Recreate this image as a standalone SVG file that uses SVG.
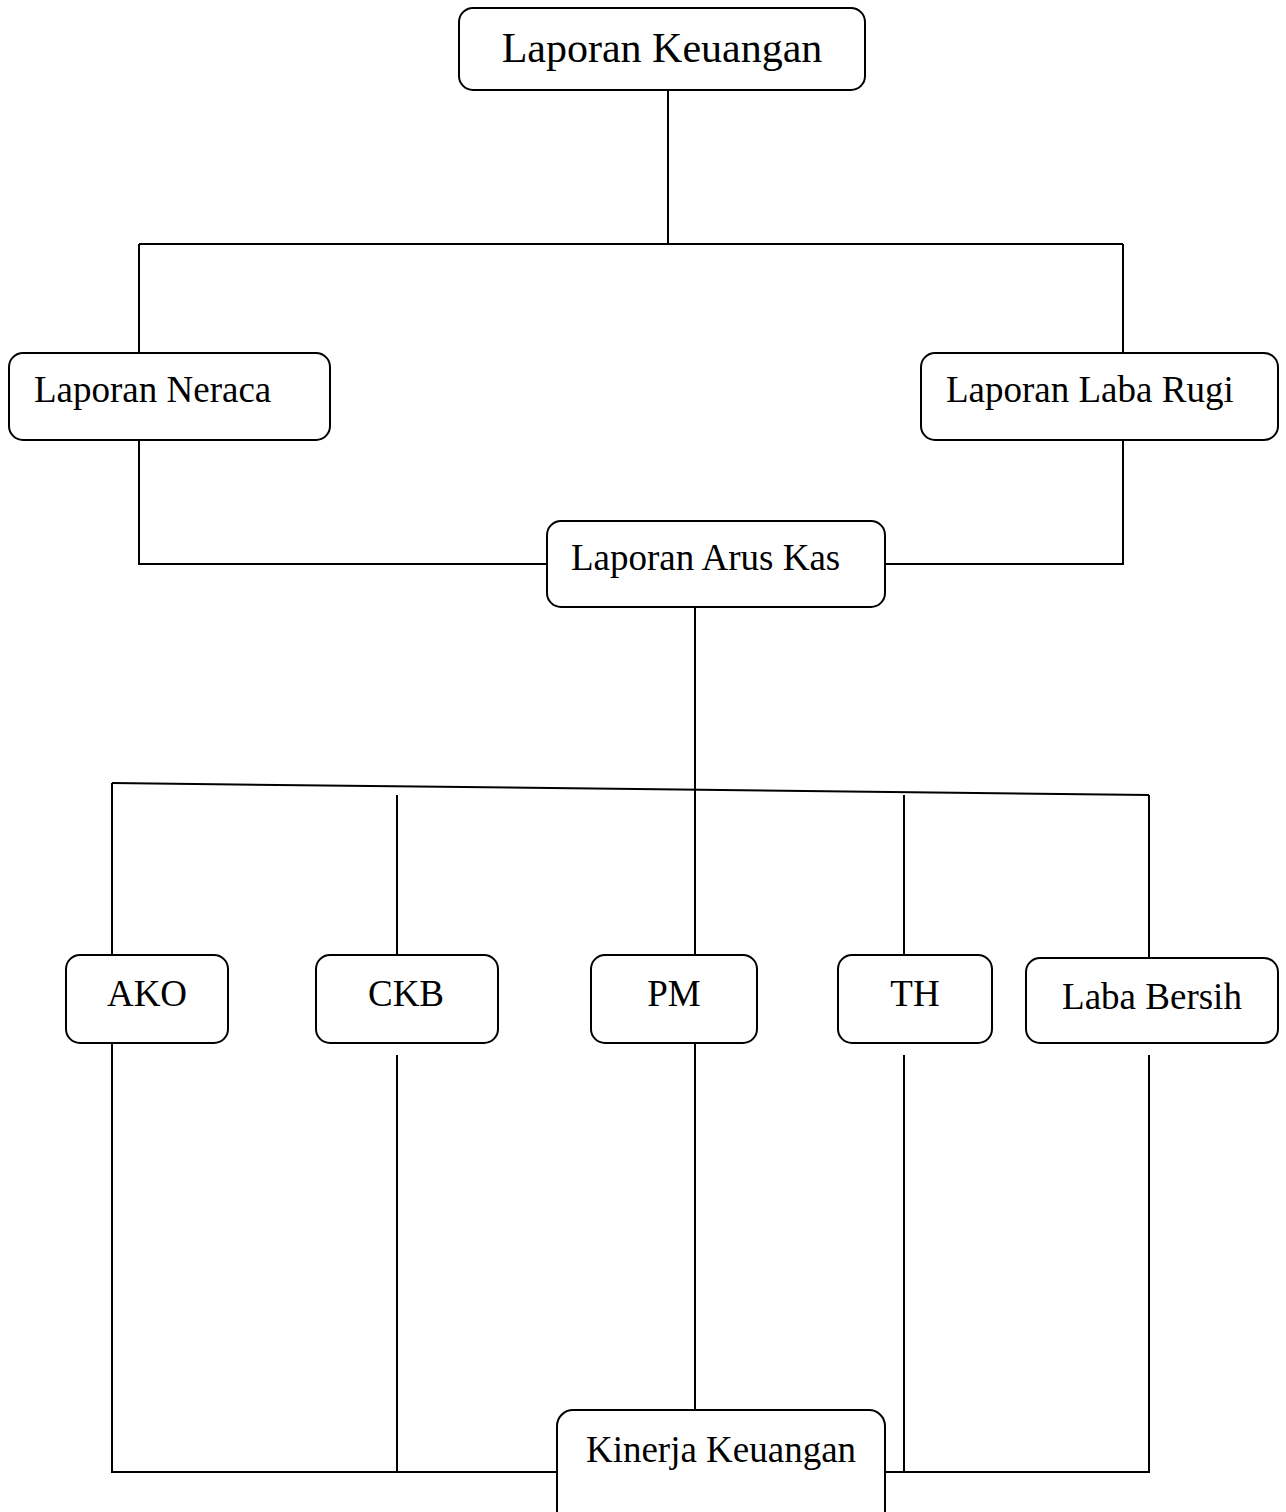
<svg xmlns="http://www.w3.org/2000/svg" width="1286" height="1512" viewBox="0 0 1286 1512">
<style>
.box{fill:#fff;stroke:#000;stroke-width:2}
.t{font-family:"Liberation Serif","Times New Roman",serif;font-size:37px;fill:#000}
.big{font-size:42px}
.c{stroke:#000;stroke-width:2;fill:none}
</style>
<rect width="1286" height="1512" fill="#fff"/>
<g id="connectors">
<path class="c" d="M668 90V244M139 244H1123M139 244V353M1123 244V353"/>
<path class="c" d="M139 440V564H547M1123 440V564H885"/>
<path class="c" d="M695 607V955"/>
<path class="c" d="M112 783L1149 795" stroke-width="2.5"/>
<path class="c" d="M112 783V955M397 795V955M904 795V955M1149 795V958"/>
<path class="c" d="M112 1043V1472H557M397 1055V1472M695 1043V1410M904 1055V1472M1149 1055V1472H885"/>
</g>
<g id="laporan-keuangan"><rect class="box" x="459" y="8" width="406" height="82" rx="14"/><text class="t big" x="662" y="62" text-anchor="middle">Laporan Keuangan</text></g>
<g id="laporan-neraca"><rect class="box" x="9" y="353" width="321" height="87" rx="14"/><text class="t" x="34" y="402">Laporan Neraca</text></g>
<g id="laporan-laba-rugi"><rect class="box" x="921" y="353" width="357" height="87" rx="14"/><text class="t" x="946" y="402">Laporan Laba Rugi</text></g>
<g id="laporan-arus-kas"><rect class="box" x="547" y="521" width="338" height="86" rx="14"/><text class="t" x="571" y="570">Laporan Arus Kas</text></g>
<g id="ako"><rect class="box" x="66" y="955" width="162" height="88" rx="14"/><text class="t" x="147" y="1006" text-anchor="middle">AKO</text></g>
<g id="ckb"><rect class="box" x="316" y="955" width="182" height="88" rx="14"/><text class="t" x="406" y="1006" text-anchor="middle">CKB</text></g>
<g id="pm"><rect class="box" x="591" y="955" width="166" height="88" rx="14"/><text class="t" x="674" y="1006" text-anchor="middle">PM</text></g>
<g id="th"><rect class="box" x="838" y="955" width="154" height="88" rx="14"/><text class="t" x="915" y="1006" text-anchor="middle">TH</text></g>
<g id="laba-bersih"><rect class="box" x="1026" y="958" width="252" height="85" rx="14"/><text class="t" x="1152" y="1009" text-anchor="middle">Laba Bersih</text></g>
<g id="kinerja-keuangan"><rect class="box" x="557" y="1410" width="328" height="120" rx="16"/><text class="t" x="721" y="1462" text-anchor="middle">Kinerja Keuangan</text></g>
</svg>
